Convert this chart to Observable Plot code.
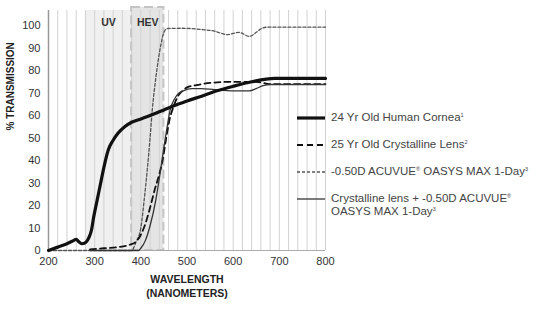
<!DOCTYPE html>
<html><head><meta charset="utf-8">
<script src="https://cdn.jsdelivr.net/npm/d3@7"></script>
<script src="https://cdn.jsdelivr.net/npm/@observablehq/plot@0.6"></script>
<style>
body{margin:0;background:#fff;font-family:"Liberation Sans",Arial,sans-serif;}
#wrap{position:relative;width:543px;height:315px;overflow:hidden;}
.item{position:absolute;left:297px;display:flex;align-items:flex-start;}
.item svg{flex:none;}
.item span{margin-left:6px;font-size:11.5px;line-height:13px;color:#444;white-space:nowrap;}
.item sup{font-size:5.5px;vertical-align:4px;line-height:0;}
</style></head><body><div id="wrap"></div>
<script>
// ---- data ----
const xTicks = [200, 300, 400, 500, 600, 700, 800];
const yTicks = [0, 10, 20, 30, 40, 50, 60, 70, 80, 90, 100];
const gridNm = [200,220,240,260,280,300,320,340,360,380,400,420,440,460,480,500,520,540,560,580,600,620,640,660,680,700,720,740,760,780,800];
const bandLabels = ["UV", "HEV"];
const bandStart = [280, 380];
const bandEnd = [380, 450];

const corneaNm  = [200,220,240,255,260,265,272,280,287,293,298,305,313,320,330,340,350,365,380,400,420,450,480,500,530,565,600,640,690,800];
const corneaPct = [0,1.5,3,4.5,5,4,3,3.5,5.5,9,15,22,30,37,45,49,52,55,57,58.5,60,62.5,65,66.5,68.5,71,73,75,76.5,76.5];

const lensNm  = [290,320,350,375,390,400,410,420,430,440,447,455,462,470,480,490,500,520,550,600,650,680,800];
const lensPct = [0.5,1,1.5,2.5,4,7,12,19,27,34,40,50,58,63.5,68.5,71,72.5,73.5,74.5,75,75,74,74];

const oasysNm  = [200,380,390,400,407,414,420,425,432,438,444,450,458,490,530,560,587,600,612,635,650,660,675,800];
const oasysPct = [0,0,4,10,22,36,50,63,76,85,92,97,98.7,98.8,98.3,97.5,96,96.5,97,95.2,97,98.5,99.3,99.3];

const comboNm  = [290,395,400,410,420,432,443,450,457,464,472,480,492,510,530,560,600,635,650,665,681,800];
const comboPct = [0,0,1,4.5,11,22,36,46,55,63,67,69.5,71,72,72,71.5,71,71,72,73.3,73.8,73.8];

const legendLabels = [
  '24 Yr Old Human Cornea<sup>1</sup>',
  '25 Yr Old Crystalline Lens<sup>2</sup>',
  '-0.50D ACUVUE<sup>®</sup> OASYS MAX 1-Day<sup>3</sup>',
  'Crystalline lens + -0.50D ACUVUE<sup>®</sup><br>OASYS MAX 1-Day<sup>3</sup>'
];

// ---- tables ----
const toRows = (nm, pct) => nm.map((x, i) => ({x, y: pct[i]}));
const cornea = toRows(corneaNm, corneaPct);
const lens = toRows(lensNm, lensPct);
const oasys = toRows(oasysNm, oasysPct);
const combo = toRows(comboNm, comboPct);
const bands = bandLabels.map((label, i) => ({label, start: bandStart[i], end: bandEnd[i], mid: (bandStart[i] + bandEnd[i]) / 2}));

const styles = [
  {stroke: "#111", strokeWidth: 3.2, dash: null},
  {stroke: "#111", strokeWidth: 1.8, dash: "6,4"},
  {stroke: "#555", strokeWidth: 1.3, dash: "3,2"},
  {stroke: "#333", strokeWidth: 1.3, dash: null}
];

const yMax = 106.7;
const hevTop = 108;
const font = '"Liberation Sans", Arial, sans-serif';

const chart = Plot.plot({
  width: 543,
  height: 315,
  marginLeft: 48,
  marginRight: 218,
  marginTop: 10,
  marginBottom: 65,
  style: {fontFamily: font, fontSize: "11px", color: "#333", background: "#fff", overflow: "visible"},
  x: {domain: [200, 800]},
  y: {domain: [0, yMax]},
  marks: [
    Plot.rect(bands.filter(d => d.label === "UV"), {x1: "start", x2: "end", y1: 0, y2: yMax, fill: "#f0f0f0"}),
    Plot.rect(bands.filter(d => d.label === "HEV"), {x1: "start", x2: "end", y1: 0, y2: hevTop, fill: "#e4e4e4"}),
    Plot.ruleX(gridNm, {stroke: "#d2d2d2", strokeWidth: 1}),
    Plot.rect(bands.filter(d => d.label === "HEV"), {x1: "start", x2: "end", y1: 0, y2: hevTop, fill: "none", stroke: "#c4c4c4", strokeWidth: 2, strokeDasharray: "9,4"}),
    Plot.text(bands, {x: "mid", text: "label", frameAnchor: "top", dy: 8, fontWeight: "bold", fontSize: 10.5, fill: "#333"}),
    Plot.ruleX([200], {stroke: "#999", strokeWidth: 1.5}),
    Plot.ruleY([0], {stroke: "#aaa", strokeWidth: 1}),
    Plot.axisX({ticks: xTicks, tickSize: 0, tickPadding: 7, tickFormat: d => d, label: null, fontSize: 11}),
    Plot.axisY({ticks: yTicks, tickSize: 0, tickPadding: 8, label: null, fontSize: 11}),
    Plot.text(["WAVELENGTH\n(NANOMETERS)"], {frameAnchor: "bottom", lineAnchor: "top", dy: 23, lineHeight: 1.3, fontWeight: "bold", fontSize: 10.5, fill: "#222"}),
    Plot.text(["% TRANSMISSION"], {frameAnchor: "left", rotate: -90, dx: -38, fontWeight: "bold", fontSize: 10, fill: "#222"}),
    Plot.line(oasys, {x: "x", y: "y", stroke: styles[2].stroke, strokeWidth: styles[2].strokeWidth, strokeDasharray: styles[2].dash, curve: "monotone-x"}),
    Plot.line(lens, {x: "x", y: "y", stroke: styles[1].stroke, strokeWidth: styles[1].strokeWidth, strokeDasharray: styles[1].dash, curve: "monotone-x"}),
    Plot.line(combo, {x: "x", y: "y", stroke: styles[3].stroke, strokeWidth: styles[3].strokeWidth, curve: "monotone-x"}),
    Plot.line(cornea, {x: "x", y: "y", stroke: styles[0].stroke, strokeWidth: styles[0].strokeWidth, curve: "monotone-x"})
  ]
});

const wrap = document.getElementById("wrap");
wrap.appendChild(chart);

// legend (HTML overlay)
const rowTops = [111, 138, 165, 192];
legendLabels.forEach((lab, i) => {
  const s = styles[i];
  const div = document.createElement("div");
  div.className = "item";
  div.style.top = rowTops[i] + "px";
  div.innerHTML = `<svg width="28" height="14"><line x1="0" x2="28" y1="7" y2="7" stroke="${s.stroke}" stroke-width="${s.strokeWidth}" ${s.dash ? `stroke-dasharray="${s.dash}"` : ""}/></svg><span>${lab}</span>`;
  wrap.appendChild(div);
});
</script>
</body></html>
